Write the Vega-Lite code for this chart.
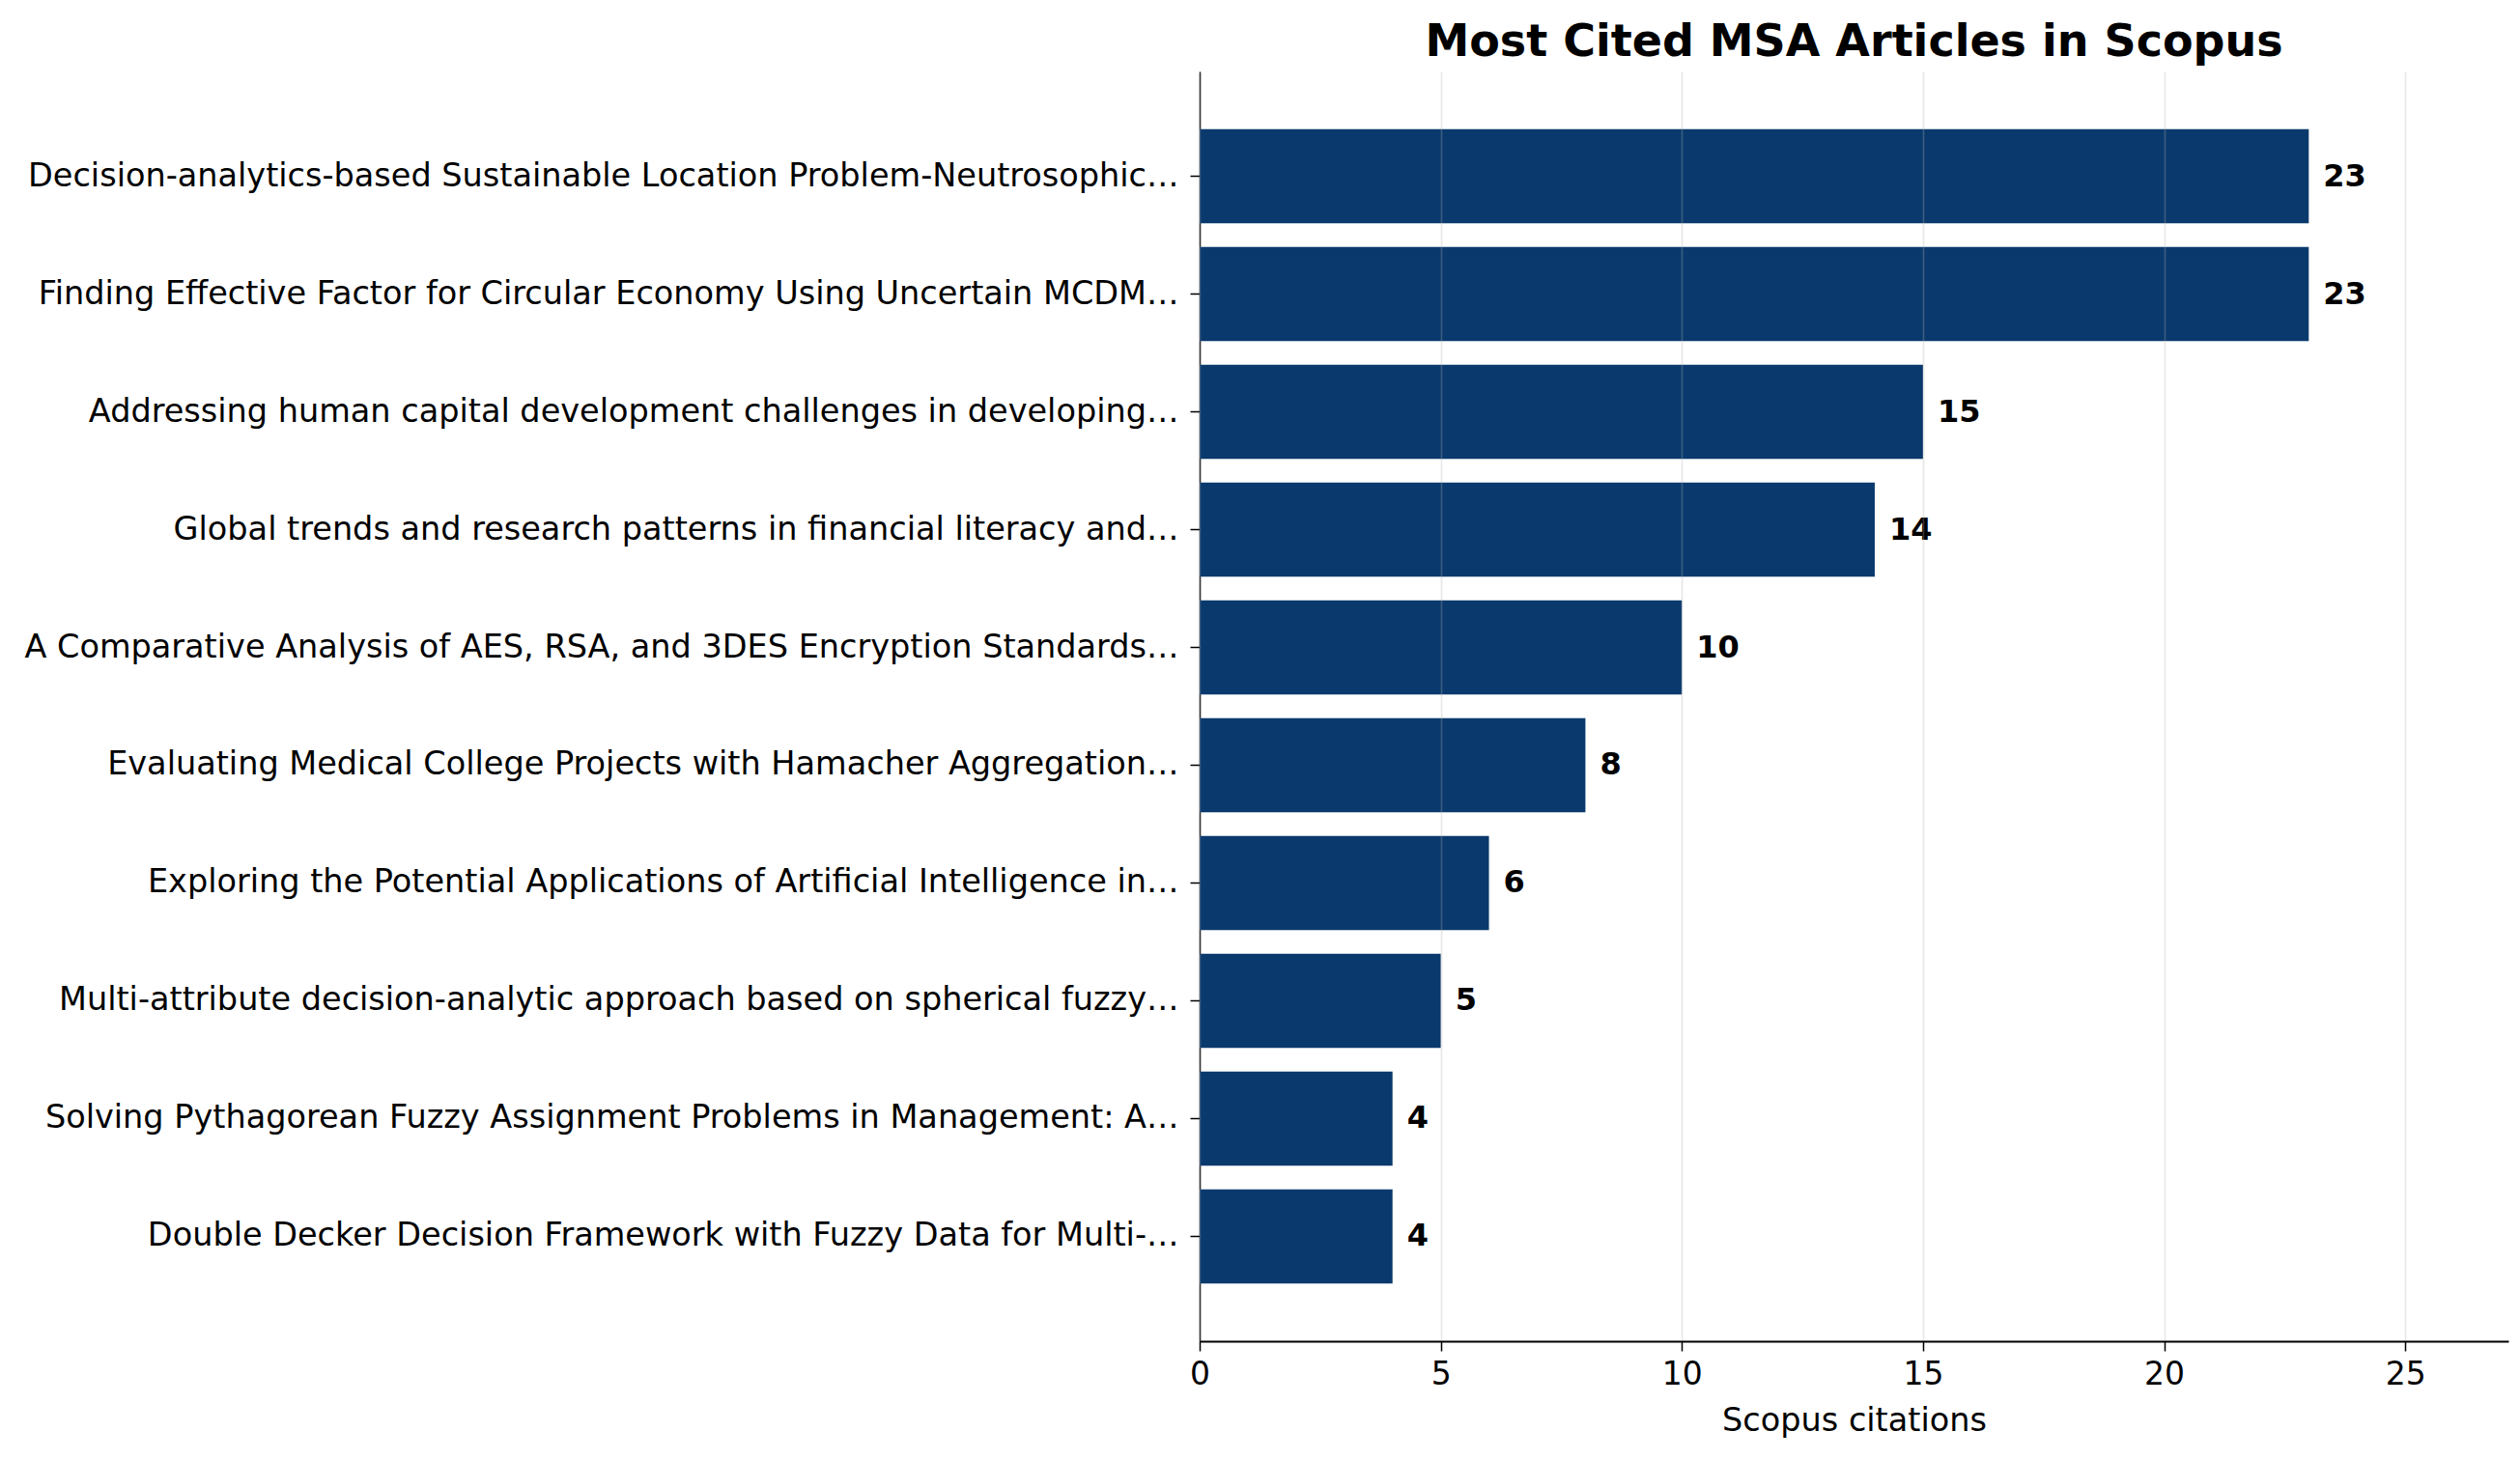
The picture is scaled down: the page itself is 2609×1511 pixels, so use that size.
{
  "$schema": "https://vega.github.io/schema/vega-lite/v6.json",
  "autosize": {"type": "none"},
  "width": 1355,
  "height": 1315,
  "padding": {"left": 1242, "top": 74, "right": 12, "bottom": 122},
  "background": "white",
  "config": {
    "view": {"stroke": null},
    "font": "DejaVu Sans"
  },
  "title": {
    "text": "Most Cited MSA Articles in Scopus",
    "fontSize": 46,
    "fontWeight": "bold",
    "font": "DejaVu Sans",
    "color": "black",
    "anchor": "middle",
    "frame": "group",
    "baseline": "alphabetic",
    "offset": -30
  },
  "data": {
    "values": [
      {"title": "Decision-analytics-based Sustainable Location Problem-Neutrosophic…", "citations": 23},
      {"title": "Finding Effective Factor for Circular Economy Using Uncertain MCDM…", "citations": 23},
      {"title": "Addressing human capital development challenges in developing…", "citations": 15},
      {"title": "Global trends and research patterns in financial literacy and…", "citations": 14},
      {"title": "A Comparative Analysis of AES, RSA, and 3DES Encryption Standards…", "citations": 10},
      {"title": "Evaluating Medical College Projects with Hamacher Aggregation…", "citations": 8},
      {"title": "Exploring the Potential Applications of Artificial Intelligence in…", "citations": 6},
      {"title": "Multi-attribute decision-analytic approach based on spherical fuzzy…", "citations": 5},
      {"title": "Solving Pythagorean Fuzzy Assignment Problems in Management: A…", "citations": 4},
      {"title": "Double Decker Decision Framework with Fuzzy Data for Multi-…", "citations": 4}
    ]
  },
  "encoding": {
    "y": {
      "field": "title",
      "type": "nominal",
      "sort": null,
      "scale": {"paddingInner": 0.2, "paddingOuter": 0.49},
      "axis": {
        "title": null,
        "labelFont": "DejaVu Sans",
        "labelFontSize": 33.5,
        "labelColor": "black",
        "labelLimit": 0,
        "labelPadding": 12,
        "tickSize": 10,
        "tickWidth": 1.5,
        "tickColor": "black",
        "domainColor": "black",
        "domainWidth": 1.5,
        "grid": false
      }
    },
    "x": {
      "field": "citations",
      "type": "quantitative",
      "scale": {"domain": [0, 27.14], "nice": false, "zero": true},
      "axis": {
        "title": "Scopus citations",
        "titleFont": "DejaVu Sans",
        "titleFontSize": 33.5,
        "titleFontWeight": "normal",
        "titleColor": "black",
        "titlePadding": 15,
        "values": [0, 5, 10, 15, 20, 25],
        "labelFont": "DejaVu Sans",
        "labelFontSize": 33,
        "labelColor": "black",
        "labelPadding": 8,
        "labelFlush": false,
        "tickSize": 10,
        "tickWidth": 1.5,
        "tickColor": "black",
        "domainColor": "black",
        "domainWidth": 1.8,
        "grid": true,
        "gridColor": "#b0b0b0",
        "gridOpacity": 0.3,
        "gridWidth": 1.6,
        "zindex": 1
      }
    }
  },
  "layer": [
    {
      "mark": {"type": "bar", "color": "#0a3a6d"}
    },
    {
      "mark": {
        "type": "text",
        "align": "left",
        "baseline": "middle",
        "dx": 15,
        "font": "DejaVu Sans",
        "fontSize": 32,
        "fontWeight": "bold",
        "color": "black"
      },
      "encoding": {"text": {"field": "citations", "type": "quantitative"}}
    }
  ]
}
